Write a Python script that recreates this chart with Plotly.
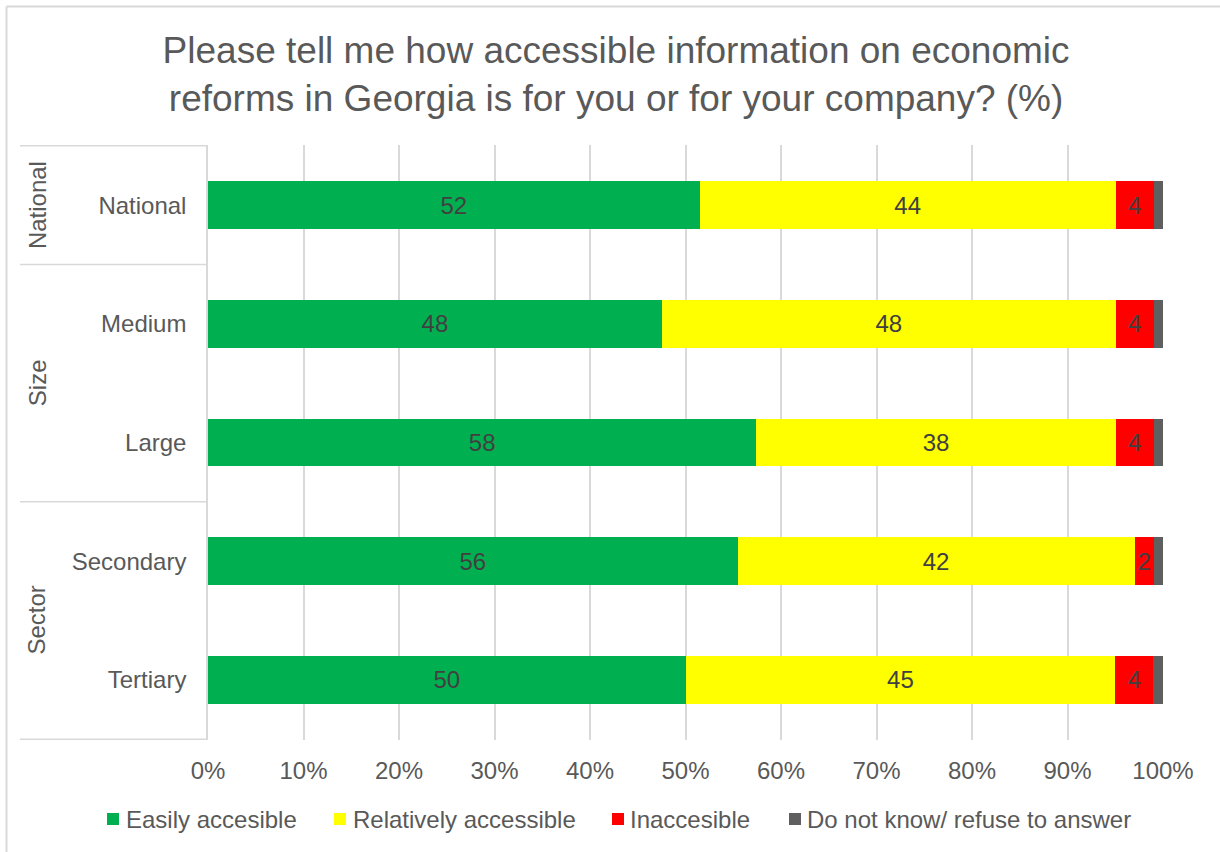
import plotly.graph_objects as go

# Survey results (% of respondents), rows grouped by National / Size / Sector
rows = ["National", "Medium", "Large", "Secondary", "Tertiary"]
easily = [52, 48, 58, 56, 50]
relatively = [44, 48, 38, 42, 45]
inaccessible = [4, 4, 4, 2, 4]
dont_know = [1, 1, 1, 1, 1]
group_names = ["National", "Size", "Sector"]
group_sizes = [1, 2, 2]

series = [
    ("Easily accesible", easily, "#00B050", True),
    ("Relatively accessible", relatively, "#FFFF00", True),
    ("Inaccesible", inaccessible, "#FF0000", True),
    ("Do not know/ refuse to answer", dont_know, "#5F5F5F", False),
]

FONT = "Liberation Sans, Arial, sans-serif"
TXT = "#595959"
GRID = "#D9D9D9"
FS = 24

W, H = 1220, 852
L, R, T, B = 208, 57, 145, 112
PW, PH = W - L - R, H - T - B


def px_x(px):
    return (px - L) / PW


def px_y(py):
    return (H - B - py) / PH


fig = go.Figure()
for name, vals, color, labelled in series:
    fig.add_trace(go.Bar(
        y=rows, x=vals, name=name, orientation="h",
        marker=dict(color=color, line=dict(width=0)),
        width=0.4,
        text=[str(v) for v in vals] if labelled else None,
        textposition="inside" if labelled else "none",
        insidetextanchor="middle",
        textfont=dict(family=FONT, size=FS, color="#404040"),
        constraintext="none",
        hoverinfo="skip",
        showlegend=False,
    ))

shapes = []
# outer chart frame (top and left edges)
shapes.append(dict(type="line", xref="paper", yref="paper",
                   x0=px_x(6.5), x1=px_x(1225), y0=px_y(6.5), y1=px_y(6.5),
                   line=dict(color=GRID, width=2)))
shapes.append(dict(type="line", xref="paper", yref="paper",
                   x0=px_x(6.5), x1=px_x(6.5), y0=px_y(6.5), y1=px_y(860),
                   line=dict(color=GRID, width=2)))

# group separators and labels on the category axis
annotations = []
edge = -0.5
shapes.append(dict(type="line", xref="paper", yref="y",
                   x0=px_x(20), x1=0, y0=edge, y1=edge,
                   line=dict(color=GRID, width=1.5)))
for gname, gsize in zip(group_names, group_sizes):
    nxt = edge + gsize
    shapes.append(dict(type="line", xref="paper", yref="y",
                       x0=px_x(20), x1=0, y0=nxt, y1=nxt,
                       line=dict(color=GRID, width=1.5)))
    annotations.append(dict(text=gname, xref="paper", yref="y",
                            x=px_x(37), y=(edge + nxt) / 2, textangle=-90,
                            showarrow=False, xanchor="center", yanchor="middle",
                            font=dict(family=FONT, size=FS, color=TXT)))
    edge = nxt

# legend row: colour swatch followed by its series name
legend_pos = [(107, 126), (334, 353), (612, 630), (789, 807)]
for (name, _, color, _), (sx, tx) in zip(series, legend_pos):
    shapes.append(dict(type="rect", xref="paper", yref="paper",
                       x0=px_x(sx), x1=px_x(sx + 12),
                       y0=px_y(813), y1=px_y(825),
                       fillcolor=color, line=dict(width=0)))
    annotations.append(dict(text=name, xref="paper", yref="paper",
                            x=px_x(tx - 2), y=px_y(819),
                            xanchor="left", yanchor="middle", showarrow=False,
                            font=dict(family=FONT, size=FS, color=TXT)))

fig.update_layout(
    barmode="stack",
    barnorm="percent",
    width=W, height=H,
    margin=dict(l=L, r=R, t=T, b=B),
    paper_bgcolor="white", plot_bgcolor="white",
    title=dict(
        text="Please tell me how accessible information on economic<br>reforms in Georgia is for you or for your company? (%)",
        x=0.505, xref="container", xanchor="center",
        y=1 - 62.5 / 852, yref="container", yanchor="middle",
        font=dict(family=FONT, size=37, color=TXT),
    ),
    xaxis=dict(
        range=[0, 100], dtick=10, ticksuffix="%",
        showgrid=True, gridcolor=GRID, gridwidth=1.5,
        zeroline=False, showline=False,
        tickfont=dict(family=FONT, size=FS, color=TXT),
        ticklabelstandoff=14, tickangle=0,
    ),
    yaxis=dict(
        categoryorder="array", categoryarray=rows, autorange="reversed",
        showline=True, linecolor=GRID, linewidth=1.5,
        showgrid=False, ticks="",
        tickfont=dict(family=FONT, size=FS, color=TXT),
        ticklabelstandoff=15,
    ),
    uniformtext=dict(minsize=FS, mode="show"),
    shapes=shapes,
    annotations=annotations,
    showlegend=False,
)

fig.write_html("out.html")
